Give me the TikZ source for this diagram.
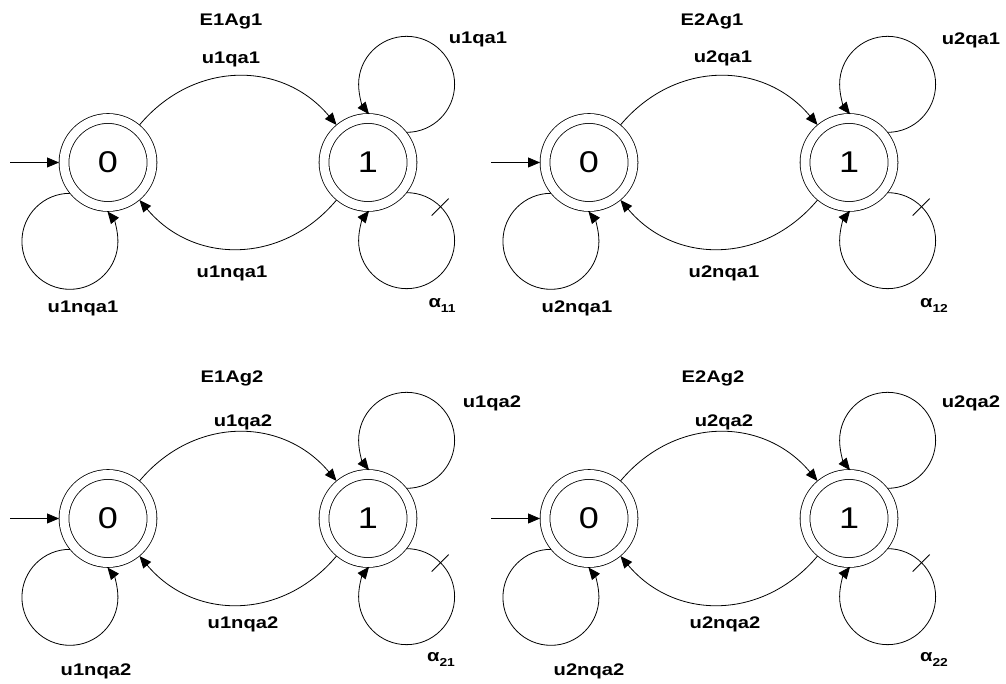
\documentclass[tikz,border=0pt]{standalone}
\usepackage{fontspec}
\usetikzlibrary{arrows.meta,calc}
\newfontfamily\labfont[FakeStretch=1.2]{Liberation Sans}
\newcommand\fsmpanel[3]{%
  \node[state] (#3s0) at (#1,#2) {0};
  \node[state] (#3s1) at ($(#3s0)+(260,0)$) {1};
  \coordinate (#3in) at ($(#3s0)+(-98,0)$);
  \draw[arr] (#3in) -- (#3s0);
  \draw[arr] (#3s0) to[out=50,in=130,looseness=1.1] (#3s1);
  \draw[arr] (#3s1) to[out=-130,in=-50,looseness=1.1] (#3s0);
  \draw[arr] (#3s1.38.5) arc[start angle=-90,end angle=218.5,radius=48];
  \draw[arr] (#3s1.-38.5) arc[start angle=90,end angle=-218.5,radius=48];
  \draw[arr] (#3s0.-141.5) arc[start angle=90,end angle=398.5,radius=48];
  \coordinate (#3lc) at ($(#3s1)+(38.3,-78.5)$);
  \draw[edge] ($(#3lc)+(45:36)$) -- ($(#3lc)+(45:60)$);
}
\newcommand\alab[1]{α\raisebox{-5pt}{\fontsize{11.5}{12}\selectfont #1}}
\begin{document}
\begin{tikzpicture}[x=1pt,y=1pt,
  edge/.style={line width=0.8pt},
  arr/.style={edge,-{Triangle[length=12pt,width=10pt]}},
  state/.style={circle,draw,double,double distance=9pt,line width=0.8pt,
    minimum size=88pt,inner sep=0pt,outer sep=5pt,
    font=\labfont\fontsize{30}{32}\selectfont},
  lab/.style={anchor=base,inner sep=0pt,font=\labfont\bfseries\fontsize{16.8}{18}\selectfont}]
\fill[white] (0,0) rectangle (1006,684);
\useasboundingbox (0,0) rectangle (1006,684);

\fsmpanel{108}{521.5}{a}
\fsmpanel{589}{521.5}{b}
\fsmpanel{108}{165.5}{c}
\fsmpanel{589}{165.5}{d}

% panel 1
\node[lab] (aE) at (231,658) {E1Ag1};
\node[lab] (aT) at (231,620) {u1qa1};
\node[lab] (aB) at (232,406) {u1nqa1};
\node[lab] (aL0) at (83,371) {u1nqa1};
\node[lab] (aL1) at (478,640) {u1qa1};
\node[lab] (aA) at (442,376) {\alab{11}};
% panel 2
\node[lab] (bE) at (712,658) {E2Ag1};
\node[lab] (bT) at (723,621) {u2qa1};
\node[lab] (bB) at (724,406) {u2nqa1};
\node[lab] (bL0) at (577,371) {u2nqa1};
\node[lab] (bL1) at (971,639) {u2qa1};
\node[lab] (bA) at (934,376) {\alab{12}};
% panel 3
\node[lab] (cE) at (232,301) {E1Ag2};
\node[lab] (cT) at (243,257) {u1qa2};
\node[lab] (cB) at (243,55) {u1nqa2};
\node[lab] (cL0) at (96,8) {u1nqa2};
\node[lab] (cL1) at (492,276) {u1qa2};
\node[lab] (cA) at (441,22) {\alab{21}};
% panel 4
\node[lab] (dE) at (713,301) {E2Ag2};
\node[lab] (dT) at (724,257) {u2qa2};
\node[lab] (dB) at (725,55) {u2nqa2};
\node[lab] (dL0) at (589,8) {u2nqa2};
\node[lab] (dL1) at (971,276) {u2qa2};
\node[lab] (dA) at (934,22) {\alab{22}};
\end{tikzpicture}
\end{document}
